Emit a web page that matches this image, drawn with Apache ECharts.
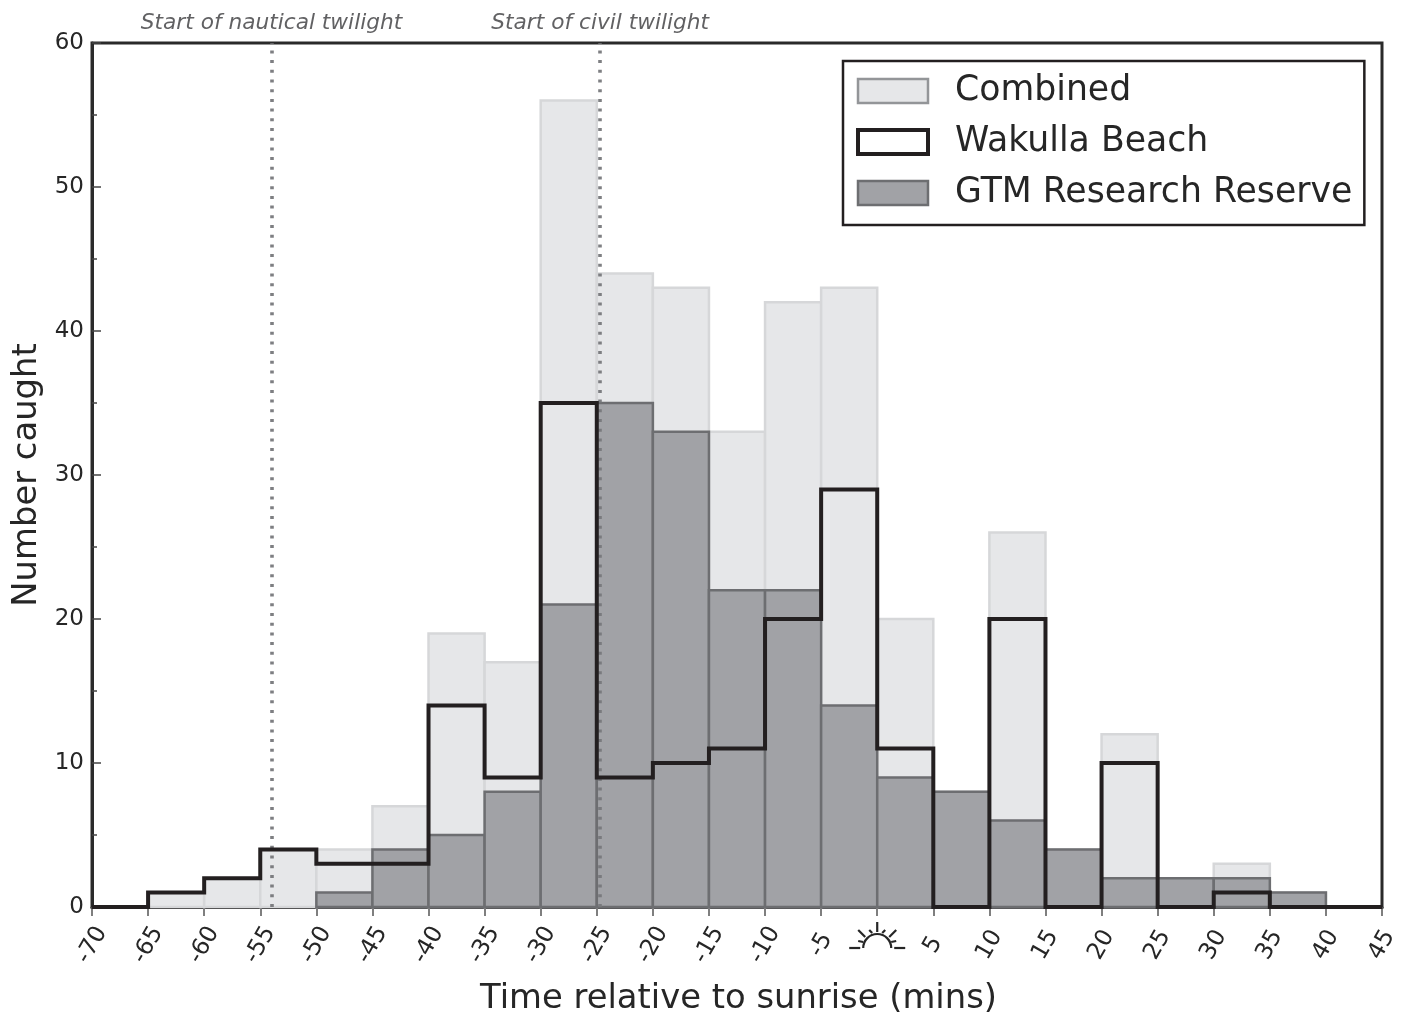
<!DOCTYPE html>
<html><head><meta charset="utf-8">
<style>html,body{margin:0;padding:0;background:#fff}#c{width:1406px;height:1012px}</style>
<script src="https://cdn.jsdelivr.net/npm/echarts@6/dist/echarts.min.js"></script>
</head><body><div id="c"></div>
<script>
var binStarts=[-70,-65,-60,-55,-50,-45,-40,-35,-30,-25,-20,-15,-10,-5,0,5,10,15,20,25,30,35,40];
var combined=[0,1,2,4,4,7,19,17,56,44,43,33,42,43,20,8,26,4,12,2,3,1,0];
var wakulla=[0,1,2,4,3,3,14,9,35,9,10,11,20,29,11,0,20,0,10,0,1,0,0];
var gtm=[0,0,0,0,1,4,5,8,21,35,33,22,22,14,9,8,6,4,2,2,2,1,0];
var binWidth=5;
var twilightLines=[{xAxis:-54,name:'Start of nautical twilight'},{xAxis:-24.7,name:'Start of civil twilight'}];
var FONT='"DejaVu Sans"', INK='#262626';

function bars(values){return binStarts.map(function(x,i){return [x,values[i]];}).filter(function(d){return d[1]>0;});}
function histRender(fill,stroke,lw){
  return function(params,api){
    var x=api.value(0),v=api.value(1);
    var a=api.coord([x,v]),b=api.coord([x+binWidth,0]);
    return {type:'rect',shape:{x:a[0],y:a[1],width:b[0]-a[0],height:b[1]-a[1]},style:{fill:fill,stroke:stroke,lineWidth:lw}};
  };
}
function sunRender(params,api){
  var c=api.coord([api.value(0),api.value(1)]);
  var st={stroke:'#262626',lineWidth:2.2,fill:null};
  var cy=41;
  var segs=[[0,-26,0.01,-16],[-19,-18,-12,-11],[19,-18,12,-11],[-8,-18,-5,-15],[8,-18,5,-15],[-19,-7,-14,-6],[19,-7,14,-6]];
  var kids=segs.map(function(s){return {type:'line',shape:{x1:s[0],y1:s[1],x2:s[2],y2:s[3]},style:st};});
  kids.push({type:'rect',shape:{x:-28,y:-1.1,width:11,height:2.2},style:{fill:'#262626'}});
  kids.push({type:'rect',shape:{x:17,y:-1.1,width:11,height:2.2},style:{fill:'#262626'}});
  kids.push({type:'arc',shape:{cx:0,cy:0,r:14,startAngle:Math.PI,endAngle:2*Math.PI},style:st});
  return {type:'group',x:c[0],y:c[1]+cy,children:kids};
}
var edgeLine=binStarts.map(function(x,i){return [x,wakulla[i]];}).concat([[binStarts[binStarts.length-1]+binWidth,0]]);

var chart=echarts.init(document.getElementById('c'),null,{renderer:'canvas'});
chart.setOption({
  animation:false,backgroundColor:'#fff',
  grid:{left:92,right:24,top:43,bottom:105,outerBoundsMode:'none',containLabel:false,show:true,borderColor:'#2a2a2a',borderWidth:3,backgroundColor:'#fff'},
  legend:{
    left:843,top:61,orient:'vertical',padding:[12.5,12,14.5,13],itemGap:16,
    itemWidth:70,itemHeight:24,backgroundColor:'#fff',borderColor:'#231f20',borderWidth:2.5,
    selectedMode:false,
    textStyle:{fontFamily:FONT,fontSize:34.7,color:INK,padding:[0,0,0,22]},
    data:[
      {name:'Combined',icon:'rect',itemStyle:{color:'#e6e7e9',borderColor:'#939598',borderWidth:2.5}},
      {name:'Wakulla Beach',icon:'rect',itemStyle:{color:'#fff',borderColor:'#231f20',borderWidth:4}},
      {name:'GTM Research Reserve',icon:'rect',itemStyle:{color:'#a1a2a6',borderColor:'#6d6e71',borderWidth:2.5}}
    ]
  },
  xAxis:{
    type:'value',min:-70,max:45,interval:5,
    name:'Time relative to sunrise (mins)',nameLocation:'middle',nameGap:75,
    nameTextStyle:{fontFamily:FONT,fontSize:33.8,color:INK,padding:[0,0,0,3]},
    splitLine:{show:false},
    axisLine:{show:true,onZero:false,lineStyle:{color:'#2a2a2a',width:3}},
    axisTick:{show:true,length:9,lineStyle:{color:'#555',width:1.5}},
    axisLabel:{fontFamily:FONT,fontSize:23.5,color:INK,rotate:60,align:'center',verticalAlign:'middle',margin:38,padding:[6,0,0,0],showMinLabel:true,showMaxLabel:true,
      formatter:function(v){return v===0?'':String(v);}}
  },
  yAxis:{
    type:'value',min:0,max:60,interval:10,
    name:'Number caught',nameLocation:'middle',nameGap:48,
    nameTextStyle:{fontFamily:FONT,fontSize:33.8,color:INK},
    splitLine:{show:false},minorSplitLine:{show:false},
    axisLine:{show:true,onZero:false,lineStyle:{color:'#2a2a2a',width:3}},
    axisTick:{show:true,inside:true,length:9,lineStyle:{color:'#444',width:1.5}},
    minorTick:{show:true,splitNumber:2,length:5,lineStyle:{color:'#444',width:1.5}},
    axisLabel:{fontFamily:FONT,fontSize:23,color:INK,margin:8}
  },
  series:[
    {name:'Combined',type:'custom',z:2,clip:false,silent:true,encode:{x:0,y:1},itemStyle:{color:'#e6e7e9'},
      renderItem:histRender('#e6e7e9','#d6d7d9',2.5),data:bars(combined)},
    {name:'GTM Research Reserve',type:'custom',z:3,clip:false,silent:true,encode:{x:0,y:1},itemStyle:{color:'#a1a2a6'},
      renderItem:histRender('#a1a2a6','#6d6e71',2.5),data:bars(gtm)},
    {name:'Wakulla Beach',type:'line',z:5,step:'end',showSymbol:false,symbol:'none',clip:false,silent:true,
      lineStyle:{color:'#231f20',width:4,join:'miter',cap:'butt'},itemStyle:{color:'#231f20'},data:edgeLine,
      markLine:{silent:true,symbol:'none',z:4,precision:2,
        lineStyle:{color:'#77787b',type:[3,6.7],width:3.6,opacity:0.95},
        label:{show:true,position:'end',formatter:'{b}',distance:9,fontFamily:FONT,fontSize:21.7,fontStyle:'italic',color:'#58595b'},
        data:twilightLines}},
    {name:'Sunrise',type:'custom',z:6,clip:false,silent:true,encode:{x:0,y:1},renderItem:sunRender,data:[[0,0]]}
  ]
});
</script></body></html>
